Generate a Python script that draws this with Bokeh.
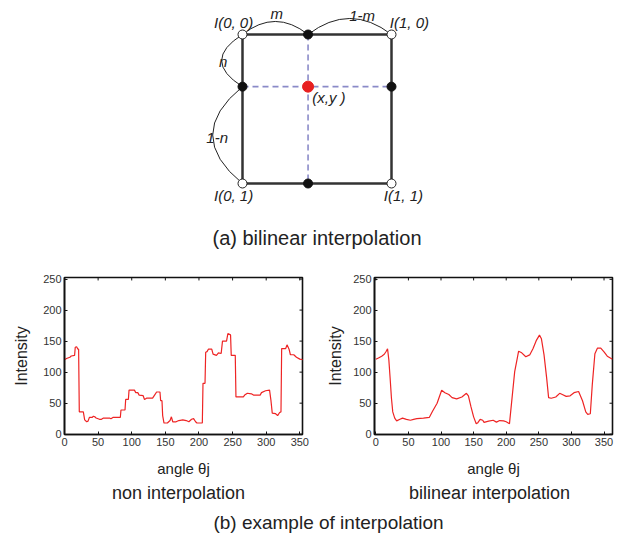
from bokeh.plotting import figure
from bokeh.layouts import column, row
from bokeh.models import Range1d, FixedTicker
from bokeh.core.properties import value
from bokeh.embed import file_html
from bokeh.resources import INLINE

# ---------------- data ----------------
# bilinear interpolation diagram (unit square, y downward)
M = 0.44          # horizontal fraction m
N = 0.35          # vertical fraction n
corner_x = [0, 1, 0, 1]
corner_y = [0, 0, 1, 1]
corner_labels = ["I(0, 0)", "I(1, 0)", "I(0, 1)", "I(1, 1)"]
fraction_labels = ["m", "1-m", "n", "1-n"]
point_label = "(x,y )"

x_ticks = [0, 50, 100, 150, 200, 250, 300, 350]
y_ticks = [0, 50, 100, 150, 200, 250]

# non interpolation profile
left_angle = [0, 3, 8, 10, 15, 16, 18, 20, 21, 22, 28, 30, 33, 35, 37, 41, 43, 45, 47, 52,
              55, 58, 67, 69, 72, 83, 84, 90, 91, 95, 96, 104, 106, 109, 111, 117, 119, 122,
              131, 134, 137, 142, 143, 145, 146, 148, 153, 157, 159, 161, 166, 170, 176, 181,
              185, 189, 192, 195, 197, 205, 206, 209, 210, 212, 214, 219, 221, 226, 229, 233,
              235, 241, 243, 247, 248, 254, 255, 266, 268, 272, 278, 281, 291, 293, 299, 305,
              307, 309, 314, 317, 320, 322, 323, 329, 331, 334, 336, 341, 345, 350, 355]
left_intensity = [120, 122, 124, 126, 127, 140, 141, 137, 137, 36, 36, 23, 20, 21, 27, 27, 29, 28, 26, 24,
                  24, 26, 26, 25, 27, 27, 39, 39, 56, 56, 71, 71, 67, 67, 63, 62, 56, 58,
                  58, 63, 68, 68, 54, 54, 30, 18, 18, 22, 28, 20, 20, 22, 23, 22,
                  20, 24, 25, 20, 18, 18, 82, 82, 132, 133, 137, 137, 129, 127, 131, 130,
                  150, 150, 162, 160, 127, 127, 60, 60, 63, 66, 65, 63, 63, 67, 70, 71,
                  55, 34, 33, 30, 35, 36, 138, 138, 144, 137, 128, 128, 124, 121, 120]

# bilinear interpolation profile
right_angle = [0, 4, 9, 13, 16, 18, 20, 22, 24, 26, 29, 32, 37, 41, 47, 53, 58, 63, 73, 82,
               87, 94, 101, 106, 112, 117, 124, 132, 139, 142, 146, 150, 154, 156, 160, 164,
               166, 173, 180, 185, 190, 196, 200, 205, 209, 213, 217, 219, 223, 230, 236, 241,
               246, 251, 254, 258, 262, 265, 269, 276, 282, 286, 292, 298, 304, 311, 317, 322,
               325, 329, 332, 336, 340, 345, 350, 355, 363]
right_intensity = [121, 123, 126, 129, 134, 138, 120, 90, 58, 36, 26, 21.5, 24, 26, 24, 22.5, 24, 25, 26, 27,
                   37, 50, 71, 67, 64, 59, 57, 60, 66, 62, 44, 28, 17, 18, 24, 22.5,
                   19, 21, 22.5, 19.5, 22, 21.5, 20, 17, 59, 101, 123, 134, 132, 125, 128, 138,
                   151, 160, 154, 128, 91, 59, 58, 60, 66, 64, 61, 62, 67, 69, 54, 36,
                   32, 33, 80, 130, 139, 139, 133, 126, 121]

FONT = value("Liberation Sans")
RED = "#ee2424"
INK = "#222222"

# ---------------- (a) diagram ----------------
UNIT = 149.0
OX, OY = 242.0, 34.0  # page pixel of corner I(0,0)
TOP_W, TOP_H = 630, 250
top = figure(width=TOP_W, height=TOP_H, output_backend="svg", toolbar_location=None,
             x_range=Range1d((0 - OX) / UNIT, (TOP_W - OX) / UNIT),
             y_range=Range1d((TOP_H - OY) / UNIT, (0 - OY) / UNIT),
             x_axis_location=None, y_axis_location=None, min_border=0)
top.outline_line_color = None
top.xgrid.visible = False
top.ygrid.visible = False

# dashed guide lines through (x, y)
top.line([0, 1], [N, N], line_color="#8a8ac8", line_width=1.6, line_dash="6 4")
top.line([M, M], [0, 1], line_color="#8a8ac8", line_width=1.6, line_dash="6 4")

# square
sq_x = [corner_x[0], corner_x[1], corner_x[3], corner_x[2], corner_x[0]]
sq_y = [corner_y[0], corner_y[1], corner_y[3], corner_y[2], corner_y[0]]
top.line(sq_x, sq_y, line_color="#333333", line_width=2.5)

# arcs
top.quadratic(x0=[0], y0=[0], x1=[M], y1=[0], cx=[M / 2], cy=[-0.175], line_color=INK, line_width=1)
top.quadratic(x0=[M], y0=[0], x1=[1], y1=[0], cx=[(1 + M) / 2], cy=[-0.215], line_color=INK, line_width=1)
top.quadratic(x0=[0], y0=[0], x1=[0], y1=[N], cx=[-0.28], cy=[N / 2], line_color=INK, line_width=1)
top.quadratic(x0=[0], y0=[N], x1=[0], y1=[1], cx=[-0.40], cy=[(1 + N) / 2], line_color=INK, line_width=1)

# points
top.scatter(corner_x, corner_y, size=9, fill_color="white", line_color=INK, line_width=1)
top.scatter([M, M, 0, 1], [0, 1, N, N], size=9, fill_color="#111111", line_color="#111111")
top.scatter([M], [N], size=11, fill_color="#e82020", line_color="#e82020")

# labels
lab_dx = [-0.06, 0.12, -0.06, 0.08]
lab_dy = [-0.08, -0.08, 0.08, 0.08]
top.text([cx + dx for cx, dx in zip(corner_x, lab_dx)], [cy + dy for cy, dy in zip(corner_y, lab_dy)],
         text=corner_labels, text_font=FONT, text_font_style="italic", text_font_size="15px",
         text_color=INK, text_align="center", text_baseline="middle")
top.text([M / 2 + 0.01, (1 + M) / 2 + 0.083, -0.13, -0.17], [-0.14, -0.128, N / 2 + 0.006, (1 + N) / 2 + 0.014],
         text=fraction_labels, text_font=FONT, text_font_style="italic", text_font_size="15px",
         text_color=INK, text_align="center", text_baseline="middle")
top.text([M + 0.028], [N + 0.073], text=[point_label], text_font=FONT, text_font_style="italic",
         text_font_size="15px", text_color=INK, text_align="left", text_baseline="middle")
top.text([0.5], [1.369], text=["(a) bilinear interpolation"], text_font=FONT, text_font_size="20px",
         text_color=INK, text_align="center", text_baseline="middle")


# ---------------- (b) profiles ----------------
def profile(xs, ys, xr, yr, bl, br, bt, bb, ystand):
    w, h = 315, 232
    p = figure(width=w, height=h, output_backend="svg", toolbar_location=None,
               x_range=Range1d(*xr), y_range=Range1d(*yr),
               min_border_left=bl, min_border_right=br, min_border_top=bt, min_border_bottom=bb)
    p.line(xs, ys, line_color=RED, line_width=1.2)
    p.xgrid.visible = False
    p.ygrid.visible = False
    p.outline_line_color = "#111111"
    p.outline_line_width = 1.6
    p.xaxis.ticker = FixedTicker(ticks=x_ticks)
    p.yaxis.ticker = FixedTicker(ticks=y_ticks)
    for ax in p.axis:
        ax.axis_line_color = "#111111"
        ax.axis_line_width = 1.6
        ax.major_tick_in = 3
        ax.major_tick_out = 0
        ax.major_tick_line_color = "#111111"
        ax.minor_tick_line_color = None
        ax.major_label_text_font = "Liberation Sans"
        ax.major_label_text_color = "#333333"
        ax.major_label_text_font_size = "11px"
        ax.major_label_standoff = 3
        ax.axis_label_text_font = "Liberation Sans"
        ax.axis_label_text_font_style = "normal"
        ax.axis_label_text_color = INK
    p.xaxis.axis_label = "angle θj"
    p.xaxis.axis_label_text_font_size = "15px"
    p.xaxis.axis_label_standoff = 11
    p.yaxis.axis_label = "Intensity"
    p.yaxis.axis_label_text_font_size = "16px"
    p.yaxis.axis_label_standoff = ystand
    # mirrored inward ticks on the top and right edges of the box
    fw = w - bl - br
    fh = h - bt - bb
    dx = 3.0 * (xr[1] - xr[0]) / fw
    dy = 3.0 * (yr[1] - yr[0]) / fh
    p.segment(x0=x_ticks, y0=[yr[1]] * len(x_ticks), x1=x_ticks, y1=[yr[1] - dy] * len(x_ticks),
              line_color="#111111", line_width=1)
    p.segment(x0=[xr[1]] * len(y_ticks), y0=y_ticks, x1=[xr[1] - dx] * len(y_ticks), y1=y_ticks,
              line_color="#111111", line_width=1)
    return p


left = profile(left_angle, left_intensity, (0, 354), (-0.5, 252.5), 64, 13, 25, 48, 10)
right = profile(right_angle, right_intensity, (-2, 363), (-0.5, 253), 59, 18, 27, 44, 6)

# ---------------- captions ----------------
CAP_TOP, CAP_BOT = 482, 536
cap = figure(width=630, height=CAP_BOT - CAP_TOP, output_backend="svg", toolbar_location=None,
             x_range=Range1d(0, 630), y_range=Range1d(CAP_BOT, CAP_TOP),
             x_axis_location=None, y_axis_location=None, min_border=0)
cap.outline_line_color = None
cap.xgrid.visible = False
cap.ygrid.visible = False
cap.text([178, 489], [492, 492], text=["non interpolation", "bilinear interpolation"], text_font=FONT,
         text_font_size="18px", text_color=INK, text_align="center", text_baseline="middle")
cap.text([328], [522], text=["(b) example of interpolation"], text_font=FONT,
         text_font_size="19px", text_color=INK, text_align="center", text_baseline="middle")

layout = column(top, row(left, right), cap)
open("out.html", "w").write(file_html(layout, INLINE))
